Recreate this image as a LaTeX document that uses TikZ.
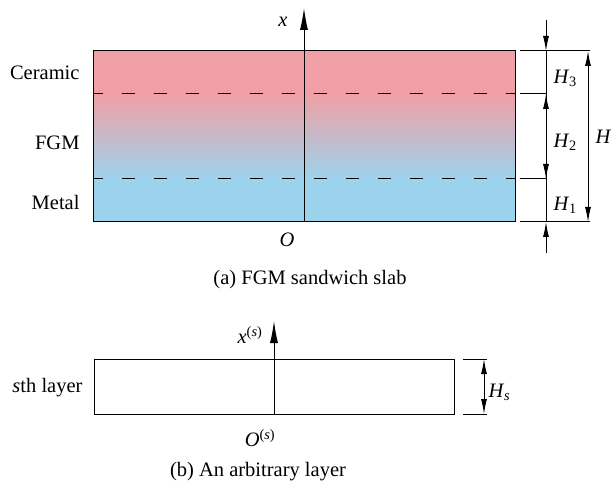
\documentclass[tikz,border=0pt]{standalone}
\usepackage{fontspec}
\setmainfont{Liberation Serif}
\usetikzlibrary{arrows.meta, positioning}
\definecolor{ceramic}{RGB}{240,160,166}
\definecolor{metal}{RGB}{155,211,236}

\begin{document}
\begin{tikzpicture}[x=1pt, y=-1pt, line width=1pt,
    lbl/.style={font=\fontsize{20.5}{24}\selectfont, inner sep=0pt},
    axis/.style={-{Latex[length=22pt, width=8pt]}},
    tip/.style={-{Latex[length=15pt, width=6pt]}},
    dim/.style={{Latex[length=15pt, width=6pt]}-{Latex[length=15pt, width=6pt]}},
    cut/.style={dash pattern=on 13pt off 19pt, dash phase=3pt}]
  \useasboundingbox (0,0) rectangle (614,492);
  % (a) slab
  \coordinate (a-tl) at (93,51);   \coordinate (a-br) at (515,222);
  \coordinate (a-u) at (93,94);    \coordinate (a-l) at (93,179);
  \coordinate (a-ur) at (515,94);  \coordinate (a-lr) at (515,179);
  \fill[ceramic] (a-tl) rectangle (a-ur);
  \shade[top color=ceramic, bottom color=metal] (a-u) rectangle (a-lr);
  \fill[metal] (a-l) rectangle (a-br);
  \draw (a-tl) rectangle (a-br);
  \draw[cut] (a-u) -- (a-ur);
  \draw[cut] (a-l) -- (a-lr);
  \coordinate (a-o) at (304,222);  \coordinate (a-x) at (304,8);
  \draw[axis] (a-o) -- (a-x);
  \node[lbl] (xa) at (283,22) {\textit{x}};
  \node[lbl] (oa) at (287,240) {\textit{O}};
  \node[lbl, anchor=east] (cer) at (80,73) {Ceramic};
  \node[lbl, anchor=east] (fgm) at (80,143) {FGM};
  \node[lbl, anchor=east] (met) at (80,202) {Metal};
  % dimensions (a)
  \foreach \y/\e in {51/590, 94/546, 179/546, 222/590}
    \draw (520,\y) -- (\e,\y);
  \coordinate (d-0) at (546,20);  \coordinate (d-3) at (546,51);
  \coordinate (d-2) at (546,94);  \coordinate (d-1) at (546,179);
  \coordinate (d-b) at (546,222); \coordinate (d-e) at (546,253);
  \draw (d-3) -- (d-b);
  \draw[tip] (d-0) -- (d-3);
  \draw[tip] (d-e) -- (d-b);
  \draw[dim] (d-2) -- (d-1);
  \coordinate (h-t) at (588,51);  \coordinate (h-b) at (588,222);
  \draw[dim] (h-t) -- (h-b);
  \node[lbl, anchor=west] (h3) at (553,78) {\textit{H}\textsubscript{3}};
  \node[lbl, anchor=west] (h2) at (553,142) {\textit{H}\textsubscript{2}};
  \node[lbl, anchor=west] (h1) at (553,205) {\textit{H}\textsubscript{1}};
  \node[lbl, anchor=west] (hh) at (595,137) {\textit{H}};
  \node[lbl] (capa) at (310,280) {(a) FGM sandwich slab};
  % (b) layer
  \coordinate (b-tl) at (94,359);  \coordinate (b-br) at (454,414);
  \draw (b-tl) rectangle (b-br);
  \coordinate (b-o) at (274,414);  \coordinate (b-x) at (274,321);
  \draw[axis] (b-o) -- (b-x);
  \node[lbl] (xb) at (250,335) {\textit{x}\textsuperscript{(\textit{s})}};
  \node[lbl] (ob) at (260,438) {\textit{O}\textsuperscript{(\textit{s})}};
  \node[lbl, anchor=east] (lay) at (83,388) {\textit{s}th layer};
  \foreach \y in {359, 414}
    \draw (463,\y) -- (487,\y);
  \coordinate (s-t) at (484,359);  \coordinate (s-b) at (484,414);
  \draw[dim] (s-t) -- (s-b);
  \node[lbl, anchor=west] (hs) at (488,392) {\textit{H}\textsubscript{\textit{s}}};
  \node[lbl] (capb) at (258,472) {(b) An arbitrary layer};
\end{tikzpicture}
\end{document}
